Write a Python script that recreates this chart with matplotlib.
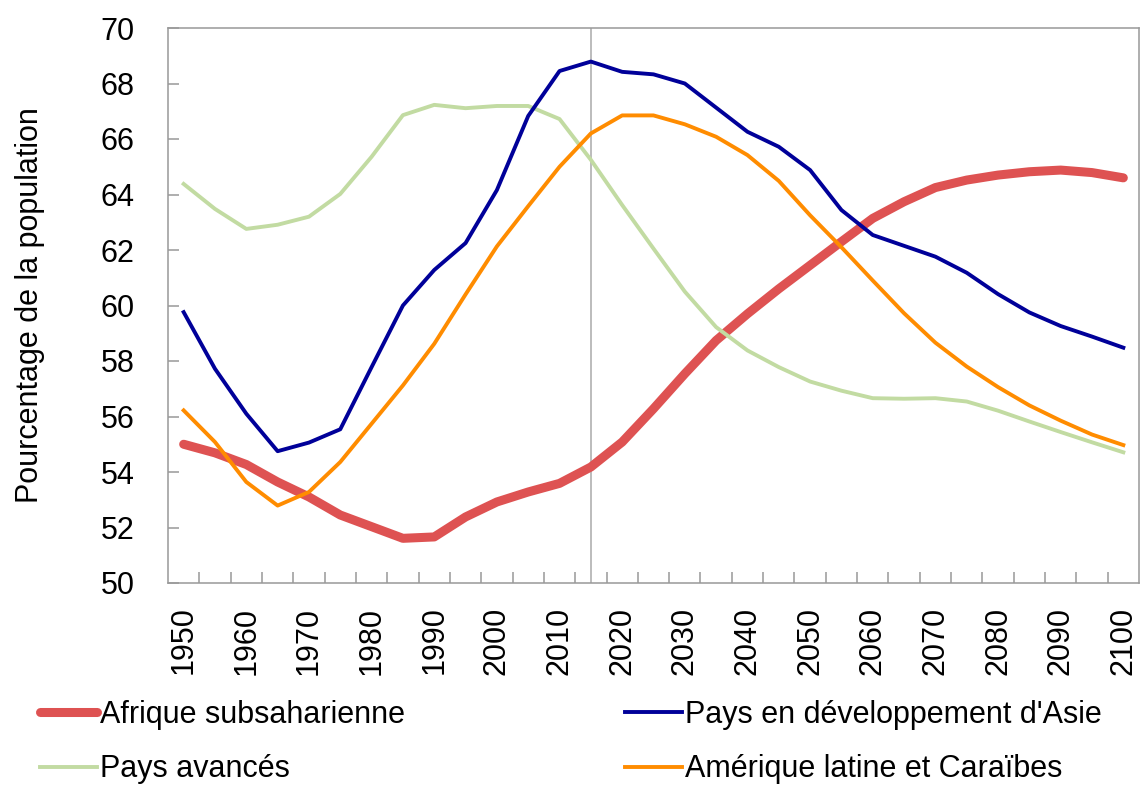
import matplotlib
matplotlib.use("Agg")
import matplotlib.pyplot as plt
from matplotlib.ticker import FixedLocator

plt.rcParams['font.family'] = ['Liberation Sans', 'DejaVu Sans']

years = [1950, 1955, 1960, 1965, 1970, 1975, 1980, 1985, 1990, 1995,
         2000, 2005, 2010, 2015, 2020, 2025, 2030, 2035, 2040, 2045,
         2050, 2055, 2060, 2065, 2070, 2075, 2080, 2085, 2090, 2095, 2100]

afrique = [55.0, 54.69, 54.27, 53.64, 53.1, 52.45, 52.03, 51.61, 51.66, 52.38,
           52.92, 53.28, 53.59, 54.18, 55.08, 56.28, 57.54, 58.74, 59.7, 60.6,
           61.45, 62.3, 63.14, 63.74, 64.25, 64.52, 64.7, 64.82, 64.88, 64.79, 64.6]

asie = [59.76, 57.72, 56.1, 54.75, 55.06, 55.54, 57.78, 60.0, 61.28, 62.25,
        64.16, 66.83, 68.45, 68.79, 68.42, 68.33, 68.0, 67.13, 66.26, 65.72,
        64.88, 63.44, 62.54, 62.15, 61.76, 61.18, 60.41, 59.75, 59.26, 58.88, 58.48]

avances = [64.38, 63.48, 62.76, 62.91, 63.2, 64.02, 65.36, 66.86, 67.23, 67.11,
           67.19, 67.19, 66.72, 65.25, 63.62, 62.05, 60.5, 59.22, 58.38, 57.78,
           57.26, 56.93, 56.66, 56.64, 56.66, 56.54, 56.21, 55.82, 55.44, 55.07, 54.71]

amerique = [56.22, 55.08, 53.64, 52.79, 53.28, 54.36, 55.74, 57.12, 58.62, 60.4,
            62.13, 63.58, 65.0, 66.2, 66.85, 66.85, 66.53, 66.08, 65.42, 64.49,
            63.25, 62.1, 60.9, 59.72, 58.66, 57.8, 57.06, 56.4, 55.85, 55.35, 54.97]

labels = ["Afrique subsaharienne", "Pays en développement d'Asie",
          "Pays avancés", "Amérique latine et Caraïbes"]
colors = {"afr": "#DE5252", "asie": "#000099", "av": "#C2DBA2", "am": "#FF8C00"}

y_ticks = list(range(50, 71, 2))
divider_year = 2015

FS = 22

fig = plt.figure(figsize=(11.41, 7.85), dpi=100)
ax = fig.add_axes([168/1141, 1 - 583/785, (1139-168)/1141, (583-28)/785])

x = list(range(len(years)))
frame_col = "#999999"
ax.axvline(years.index(divider_year), color="#AAAAAA", lw=1.1, zorder=1)

l_afr, = ax.plot(x, afrique, color=colors["afr"], lw=6.5, solid_capstyle='round', zorder=2)
l_av, = ax.plot(x, avances, color=colors["av"], lw=2.8, zorder=3)
l_am, = ax.plot(x, amerique, color=colors["am"], lw=2.8, zorder=4)
l_asie, = ax.plot(x, asie, color=colors["asie"], lw=2.8, zorder=5)

ax.set_xlim(-0.5, len(years) - 0.5)
ax.set_ylim(50, 70)

ax.set_xticks(x[::2])
ax.set_xticklabels([str(y) for y in years[::2]], rotation=90)
ax.xaxis.set_minor_locator(FixedLocator([i + 0.5 for i in range(len(years) - 1)]))
ax.tick_params(axis='x', which='major', length=0, pad=17, labelsize=FS)
ax.tick_params(axis='x', which='minor', direction='in', length=8, width=1.1, color=frame_col)

ax.set_yticks(y_ticks)
ax.tick_params(axis='y', which='major', direction='in', length=8, width=1.1,
               color=frame_col, pad=24, labelsize=FS)

for s in ax.spines.values():
    s.set_color(frame_col)
    s.set_linewidth(1.1)

ax.set_ylabel("Pourcentage de la population", fontsize=FS)
ax.yaxis.set_label_coords(-0.1265, 0.5)

fig.legend([l_afr, l_av, l_asie, l_am],
           [labels[0], labels[2], labels[1], labels[3]],
           ncol=2, loc='upper left', bbox_to_anchor=(40/1141, 1 - 700/785),
           frameon=False, fontsize=FS, handlelength=1.85, handletextpad=0.1,
           columnspacing=7.22, labelspacing=0.8, borderpad=0, borderaxespad=0)

fig.savefig("out.png", dpi=100)
